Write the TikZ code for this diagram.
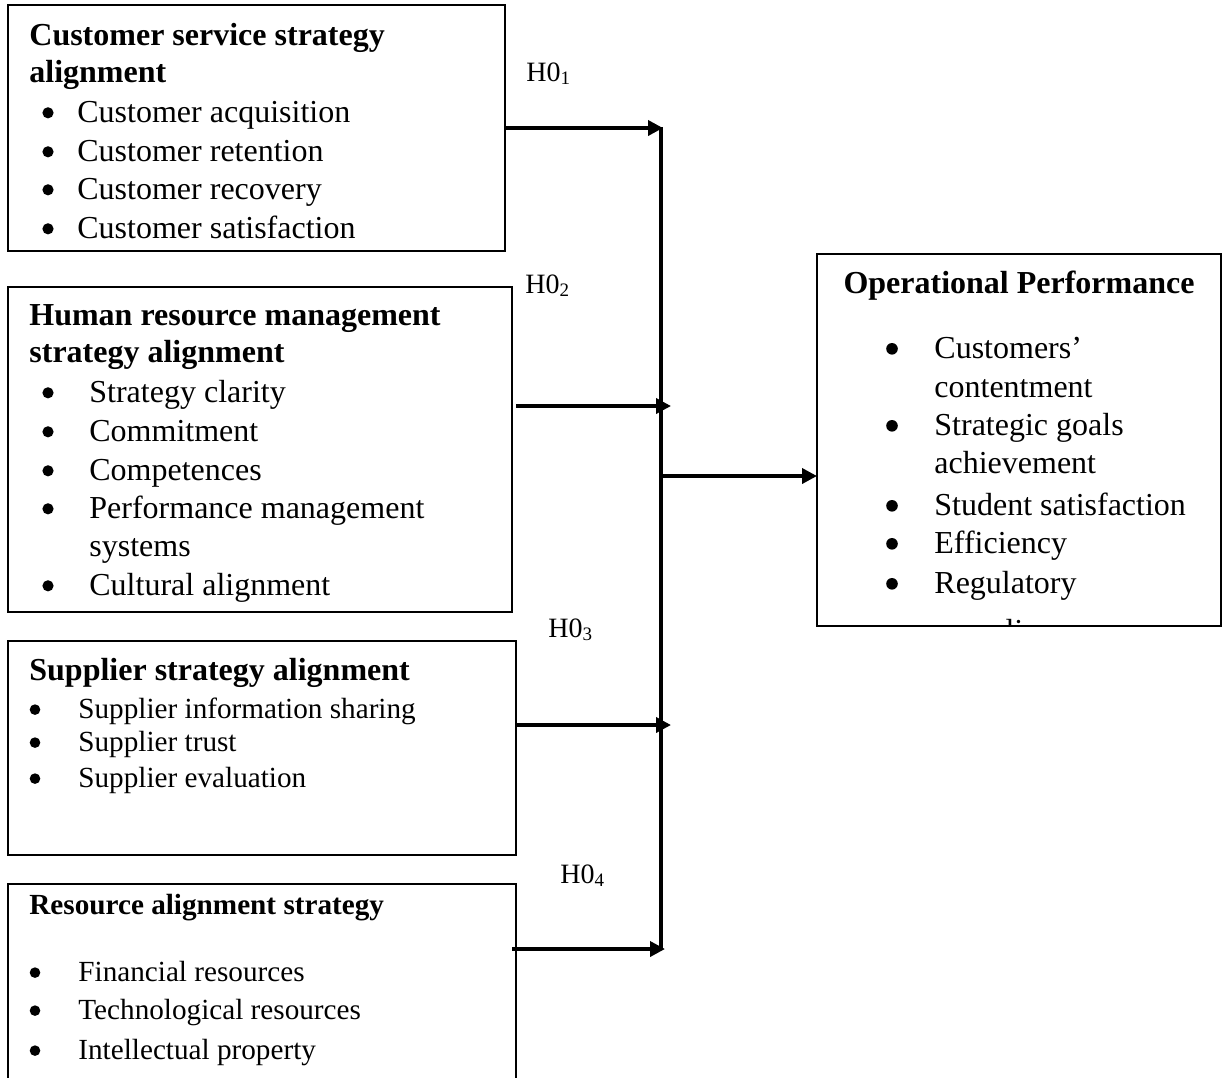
\documentclass[tikz,border=0pt]{standalone}
\usepackage{fontspec}
\setmainfont{Liberation Serif}
\usetikzlibrary{arrows.meta}
\begin{document}
\begin{tikzpicture}[x=0.5pt,y=-0.5pt,
  box/.style={draw=black, line width=0.8pt, inner sep=0pt, outer sep=0pt, anchor=north west},
  big/.style={font=\fontsize{16}{19}\selectfont},
  bigb/.style={font=\fontsize{16}{19}\selectfont\bfseries},
  mid/.style={font=\fontsize{14.6}{17}\selectfont},
  midb/.style={font=\fontsize{14.6}{17}\selectfont\bfseries},
  txt/.style={anchor=base west, inner sep=0pt},
  bul/.style={circle, fill=black, inner sep=0pt, minimum size=5.6pt, yshift=4.6pt},
  bulm/.style={circle, fill=black, inner sep=0pt, minimum size=5.3pt, yshift=4.2pt},
  hlab/.style={anchor=base west, inner sep=0pt, font=\fontsize{14}{16}\selectfont},
  arr/.style={line width=1.8pt, -{Triangle[length=7.5pt,width=7.5pt]}},
  bus/.style={line width=1.9pt},
]
\useasboundingbox (0,0) rectangle (1230,1077);

% ---------- boxes ----------
\node[box, minimum width=248.5pt, minimum height=123pt] (b1) at (8,5) {};
\node[box, minimum width=252pt, minimum height=162.5pt] (b2) at (8,287) {};
\node[box, minimum width=254pt, minimum height=107pt] (b3) at (8,641) {};
\node[box, minimum width=254pt, minimum height=100pt] (b4) at (8,884) {};
\node[box, minimum width=202pt, minimum height=186pt] (op) at (817,254) {};

% ---------- box 1 ----------
\node[txt, bigb] (t1a) at (29,45) {Customer service strategy};
\node[txt, bigb] (t1b) at (29,82) {alignment};
\foreach \y/\t [count=\i] in {122/Customer acquisition, 161/Customer retention, 199/Customer recovery, 238/Customer satisfaction}{
  \node[bul] (b1d\i) at (48,\y) {};
  \node[txt, big] (b1t\i) at (77,\y) {\t};
}

% ---------- box 2 ----------
\node[txt, bigb] (t2a) at (29,325) {Human resource management};
\node[txt, bigb] (t2b) at (29,362) {strategy alignment};
\foreach \y/\t [count=\i] in {402/Strategy clarity, 441/Commitment, 480/Competences, 518/Performance management, 595/Cultural alignment}{
  \node[bul] (b2d\i) at (48,\y) {};
  \node[txt, big] (b2t\i) at (89,\y) {\t};
}
\node[txt, big] (b2s) at (89,556) {systems};

% ---------- box 3 ----------
\node[txt, bigb] (t3a) at (29,680) {Supplier strategy alignment};
\foreach \y/\t [count=\i] in {718/Supplier information sharing, 751/Supplier trust, 787/Supplier evaluation}{
  \node[bulm] (b3d\i) at (35,\y) {};
  \node[txt, mid] (b3t\i) at (78,\y) {\t};
}

% ---------- box 4 ----------
\node[txt, midb] (t4a) at (29,914) {Resource alignment strategy};
\foreach \y/\t [count=\i] in {981/Financial resources, 1019/Technological resources, 1059/Intellectual property}{
  \node[bulm] (b4d\i) at (35,\y) {};
  \node[txt, mid] (b4t\i) at (78,\y) {\t};
}

% ---------- operational performance ----------
\node[anchor=base, inner sep=0pt, bigb] (opt) at (1019,293) {Operational Performance};
\foreach \y/\t [count=\i] in {358/Customers’, 435/Strategic goals, 515/Student satisfaction, 553/Efficiency, 593/Regulatory}{
  \node[bul, minimum size=5.8pt] (opd\i) at (892,\y) {};
  \node[txt, big] (opi\i) at (934,\y) {\t};
}
\node[txt, big] (opc1) at (934,397) {contentment};
\node[txt, big] (opc2) at (934,473) {achievement};
\begin{scope}
  \clip (818,255) rectangle (1220,624);
  \node[txt, big] (opc3) at (934,641) {compliance};
\end{scope}

% ---------- hypothesis labels ----------
\node[hlab] (h1) at (526,81) {H0\raisebox{-0.12em}{\fontsize{9.5}{10}\selectfont 1}};
\node[hlab] (h2) at (525,293) {H0\raisebox{-0.12em}{\fontsize{9.5}{10}\selectfont 2}};
\node[hlab] (h3) at (548,637) {H0\raisebox{-0.12em}{\fontsize{9.5}{10}\selectfont 3}};
\node[hlab] (h4) at (560,883) {H0\raisebox{-0.12em}{\fontsize{9.5}{10}\selectfont 4}};

% ---------- connectors ----------
\coordinate (j1) at (663,128);
\coordinate (s2) at (516,406);
\coordinate (j2) at (671,406);
\coordinate (j3) at (671,725);
\coordinate (s4) at (512,949);
\coordinate (j4) at (665,949);
\coordinate (bt) at (661,127);
\coordinate (bb) at (661,950);
\coordinate (bo) at (661,476);

\draw[bus] (bt) -- (bb);
\draw[arr] (b1.east) -- (j1);
\draw[arr] (s2) -- (j2);
\draw[arr] (b3.east |- j3) -- (j3);
\draw[arr] (s4) -- (j4);
\draw[arr] (bo) -- (bo -| op.west);
\end{tikzpicture}
\end{document}
